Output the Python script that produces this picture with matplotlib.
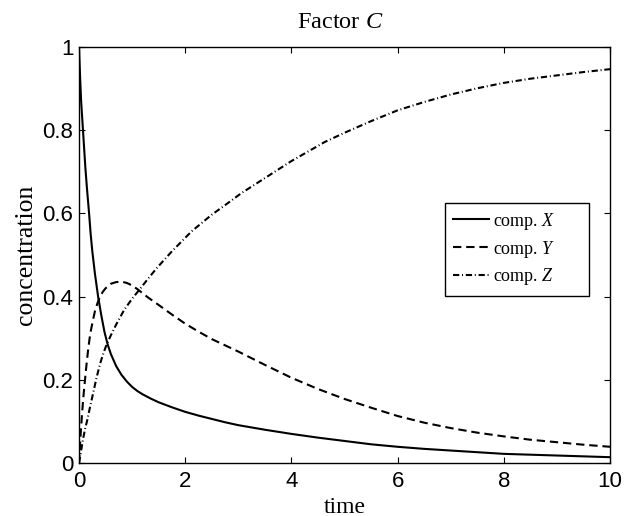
import matplotlib
matplotlib.use("Agg")
import matplotlib.pyplot as plt

# ---- data ----
t_x = [0.0, 0.02, 0.04, 0.06, 0.08, 0.10, 0.12, 0.15, 0.19, 0.22, 0.25, 0.30, 0.36, 0.42,
       0.48, 0.54, 0.60, 0.70, 0.80, 0.90, 1.0, 1.1, 1.2, 1.35, 1.5, 1.75, 2.0, 2.25, 2.5,
       2.75, 3.0, 3.5, 4.0, 4.5, 5.0, 5.5, 6.0, 6.5, 7.0, 7.5, 8.0, 8.5, 9.0, 9.5, 10.0]
comp_x = [1.0, 0.93, 0.87, 0.83, 0.79, 0.75, 0.71, 0.66, 0.60, 0.55, 0.51, 0.455, 0.40, 0.355,
          0.315, 0.285, 0.262, 0.233, 0.212, 0.196, 0.183, 0.173, 0.165, 0.155, 0.146, 0.134,
          0.123, 0.114, 0.106, 0.098, 0.091, 0.080, 0.070, 0.061, 0.053, 0.045, 0.039, 0.034,
          0.030, 0.026, 0.022, 0.020, 0.018, 0.016, 0.014]

t_y = [0.0, 0.02, 0.04, 0.06, 0.08, 0.10, 0.113, 0.14, 0.17, 0.20, 0.226, 0.26, 0.30, 0.35,
       0.395, 0.45, 0.50, 0.60, 0.70, 0.80, 0.90, 1.0, 1.1, 1.18, 1.3, 1.5, 1.75, 2.0, 2.25,
       2.5, 2.75, 3.0, 3.5, 4.0, 4.5, 5.0, 5.5, 6.0, 6.5, 7.0, 7.5, 8.0, 8.5, 9.0, 9.5, 10.0]
comp_y = [0.0, 0.045, 0.087, 0.123, 0.155, 0.183, 0.20, 0.235, 0.27, 0.30, 0.32, 0.342, 0.365,
          0.385, 0.40, 0.412, 0.42, 0.431, 0.435, 0.436, 0.433, 0.427, 0.418, 0.41, 0.398,
          0.38, 0.357, 0.335, 0.316, 0.298, 0.283, 0.268, 0.236, 0.205, 0.178, 0.154, 0.133,
          0.113, 0.097, 0.084, 0.073, 0.064, 0.056, 0.050, 0.044, 0.039]

t_z = [0.0, 0.02, 0.04, 0.08, 0.12, 0.15, 0.20, 0.27, 0.33, 0.40, 0.46, 0.52, 0.60, 0.70,
       0.85, 1.0, 1.12, 1.3, 1.46, 1.75, 2.12, 2.5, 2.75, 3.06, 3.5, 4.0, 4.63, 5.0, 5.5,
       6.0, 6.5, 7.0, 7.5, 8.0, 8.5, 9.0, 9.5, 10.0]
comp_z = [0.0, 0.015, 0.03, 0.06, 0.085, 0.10, 0.13, 0.17, 0.205, 0.24, 0.264, 0.285, 0.307,
          0.333, 0.368, 0.395, 0.414, 0.443, 0.468, 0.509, 0.557, 0.597, 0.620, 0.649, 0.685,
          0.726, 0.772, 0.794, 0.822, 0.848, 0.868, 0.886, 0.901, 0.914, 0.924, 0.932,
          0.940, 0.947]

x_ticks = [0, 2, 4, 6, 8, 10]
y_ticks = [0, 0.2, 0.4, 0.6, 0.8, 1]
y_tick_labels = ["0", "0.2", "0.4", "0.6", "0.8", "1"]
labels = ["comp. $X$", "comp. $Y$", "comp. $Z$"]
title = "Factor $C$"
xlabel = "time"
ylabel = "concentration"

# ---- style ----
plt.rcParams["mathtext.fontset"] = "custom"
plt.rcParams["mathtext.rm"] = "Liberation Serif"
plt.rcParams["mathtext.it"] = "Liberation Serif:italic"
plt.rcParams["lines.scale_dashes"] = False

fig = plt.figure(figsize=(6.25, 5.16), dpi=100)
ax = fig.add_axes([0.1264, 0.1027, 0.8496, 0.806])

ax.plot(t_x, comp_x, color="black", lw=1.5, solid_joinstyle="round", label=labels[0])
ax.plot(t_y, comp_y, color="black", lw=1.5, dashes=(6, 3.5), label=labels[1])
ax.plot(t_z, comp_z, color="black", lw=1.5, dashes=(4.5, 2, 0.7, 2), label=labels[2])

ax.set_xlim(0, 10)
ax.set_ylim(0, 1)
ax.set_xticks(x_ticks)
ax.set_xticklabels([str(v) for v in x_ticks])
ax.set_yticks(y_ticks)
ax.set_yticklabels(y_tick_labels)

for lab in ax.get_xticklabels() + ax.get_yticklabels():
    lab.set_fontfamily("Liberation Sans")
    lab.set_fontsize(16)

ax.tick_params(axis="both", direction="in", top=True, right=True, length=4, width=0.8)
ax.tick_params(axis="x", pad=6)
ax.tick_params(axis="y", pad=4)
for s in ax.spines.values():
    s.set_linewidth(1.0)

ax.set_title(title, family="Liberation Serif", fontsize=17.5, pad=13.5, x=0.492)
ax.set_xlabel(xlabel, family="Liberation Serif", fontsize=17, labelpad=3)
ax.set_ylabel(ylabel, family="Liberation Serif", fontsize=18.5, labelpad=4)

leg = ax.legend(loc="center", bbox_to_anchor=(0.689, 0.404, 0.271, 0.221), mode="expand",
                borderaxespad=0, prop={"family": "Liberation Serif", "size": 13},
                fancybox=False, framealpha=1, edgecolor="black", handlelength=2.0,
                handletextpad=0.2, borderpad=0.45, labelspacing=0.38)
leg.get_frame().set_linewidth(1.0)

fig.savefig("out.png", dpi=100)
